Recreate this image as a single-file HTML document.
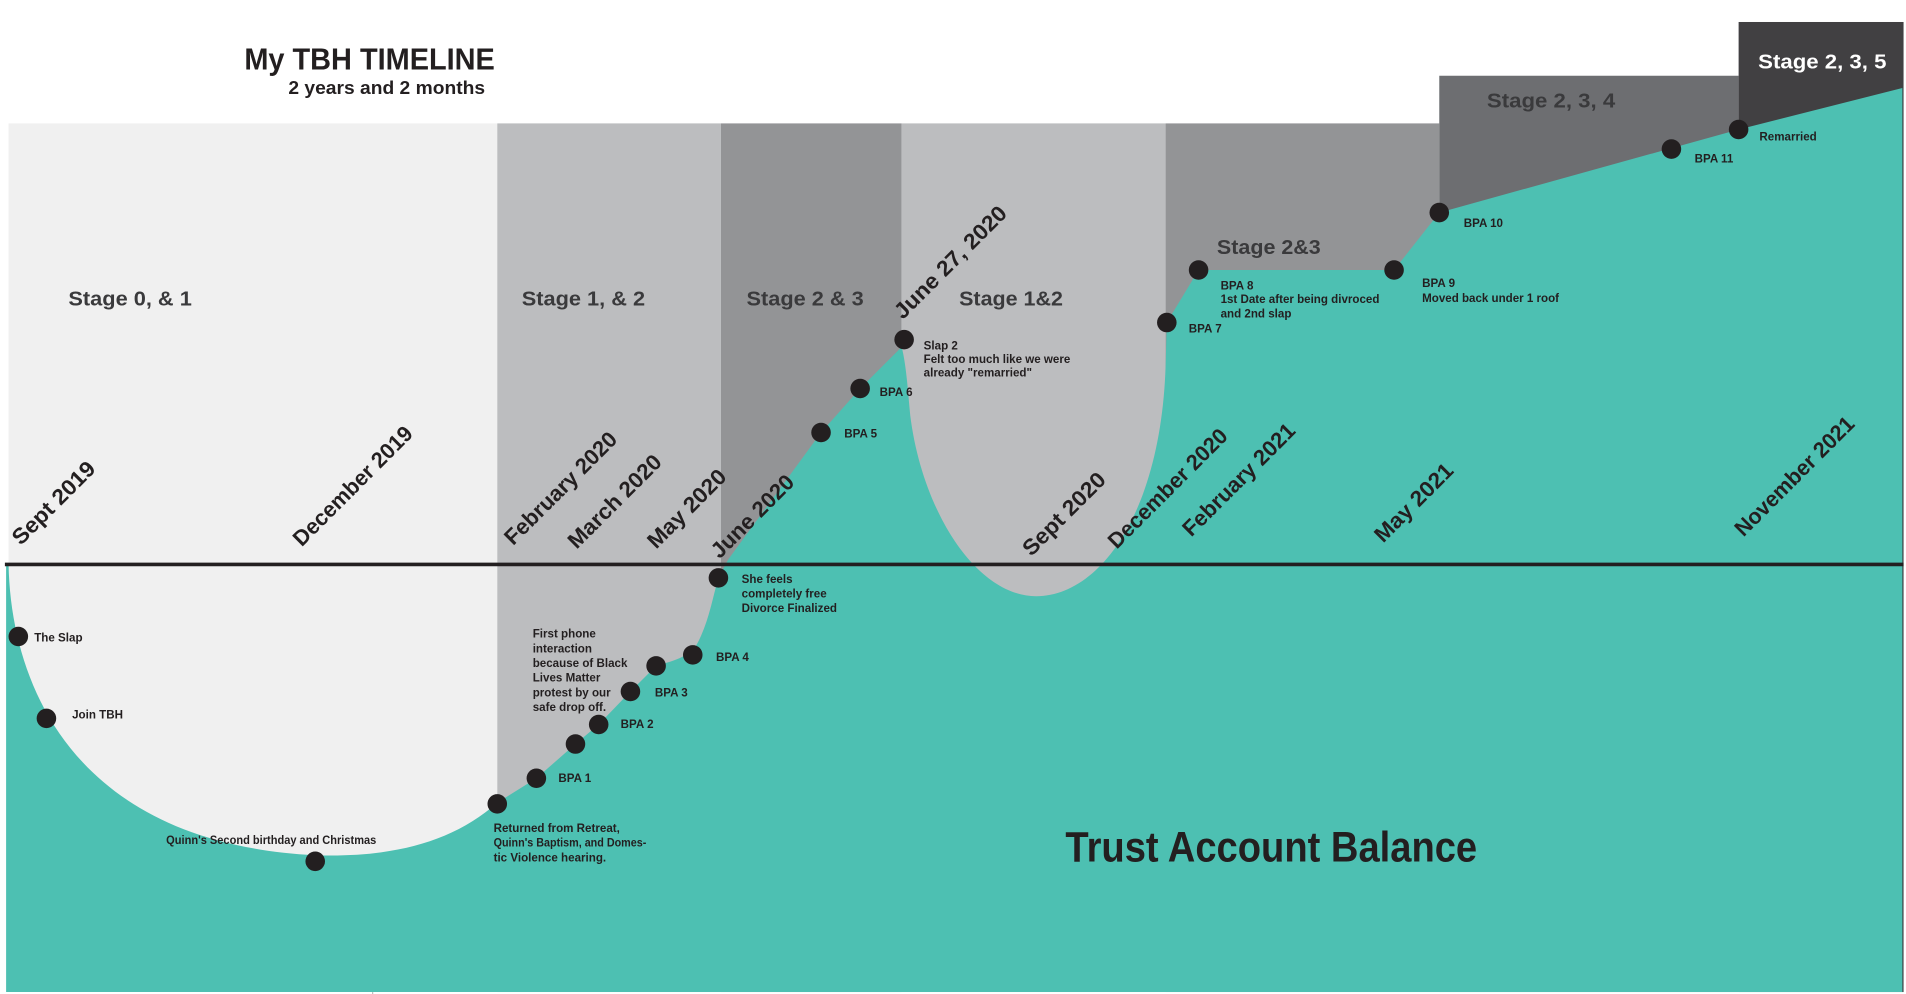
<!DOCTYPE html>
<html><head><meta charset="utf-8"><style>
html,body{margin:0;padding:0;background:#fff;width:1906px;height:994px;overflow:hidden}
svg{display:block}
text{font-family:"Liberation Sans",sans-serif;font-weight:bold;fill:#231f20}
.d{font-size:18px}
.s{font-size:17px;fill:#3a3a3c}
.a{font-size:9.5px}
</style></head><body>
<svg width="1906" height="994" viewBox="0 0 1560 813.6" preserveAspectRatio="none">
<rect x="7" y="101" width="400" height="711" fill="#f0f0f0"/>
<rect x="407" y="101" width="183" height="711" fill="#bcbdbf"/>
<rect x="590" y="101" width="148" height="711" fill="#939496"/>
<rect x="738" y="101" width="216" height="711" fill="#bcbdbf"/>
<rect x="954" y="101" width="224" height="711" fill="#939496"/>
<rect x="1178" y="62" width="245" height="750" fill="#6d6e71"/>
<rect x="1423" y="18" width="135" height="794" fill="#414042"/>
<path d="M5,462 L7,462 C9,560 60,690 258,700 C320,702 370,690 407,657 L439,637 L471,609 L490,593 L516,566 L537,545 C555,540 565,536 570,528 C580,510 583,490 588,473 L596,458 L672,354 L704,318 L738,284 C742,300 743,320 745,340 C755,420 800,488 848,488 C900,488 950,420 954,300 L955,264 L981,221 L1141,221 L1178,174 L1423,106 L1557,72 L1557,812 L5,812 Z" fill="#4dc0b2"/>
<line x1="305" y1="812" x2="305" y2="818" stroke="#bbb" stroke-width="1"/>
<line x1="4" y1="462" x2="1558" y2="462" stroke="#231f20" stroke-width="3"/>
<text x="200" y="57" style="font-size:25px" textLength="205" lengthAdjust="spacingAndGlyphs">My TBH TIMELINE</text>
<text x="236" y="77" style="font-size:15px" textLength="161" lengthAdjust="spacingAndGlyphs">2 years and 2 months</text>
<g>
<text class="d" transform="translate(17,447) rotate(-45)" textLength="88" lengthAdjust="spacingAndGlyphs">Sept 2019</text>
<text class="d" transform="translate(247,448) rotate(-45)" textLength="130" lengthAdjust="spacingAndGlyphs">December 2019</text>
<text class="d" transform="translate(420,447) rotate(-45)" textLength="122" lengthAdjust="spacingAndGlyphs">February 2020</text>
<text class="d" transform="translate(472,450) rotate(-45)" textLength="100" lengthAdjust="spacingAndGlyphs">March 2020</text>
<text class="d" transform="translate(537,450) rotate(-45)" textLength="83" lengthAdjust="spacingAndGlyphs">May 2020</text>
<text class="d" transform="translate(589,458) rotate(-45)" textLength="88" lengthAdjust="spacingAndGlyphs">June 2020</text>
<text class="d" transform="translate(739,262) rotate(-45)" textLength="122" lengthAdjust="spacingAndGlyphs">June 27, 2020</text>
<text class="d" transform="translate(844,456) rotate(-45)" textLength="88" lengthAdjust="spacingAndGlyphs">Sept 2020</text>
<text class="d" transform="translate(914,450) rotate(-45)" textLength="130" lengthAdjust="spacingAndGlyphs">December 2020</text>
<text class="d" transform="translate(975,440) rotate(-45)" textLength="122" lengthAdjust="spacingAndGlyphs">February 2021</text>
<text class="d" transform="translate(1132,445) rotate(-45)" textLength="83" lengthAdjust="spacingAndGlyphs">May 2021</text>
<text class="d" transform="translate(1427,440) rotate(-45)" textLength="130" lengthAdjust="spacingAndGlyphs">November 2021</text>
</g>
<text class="s" x="56" y="250" textLength="101" lengthAdjust="spacingAndGlyphs">Stage 0, &amp; 1</text>
<text class="s" x="427" y="250" textLength="101" lengthAdjust="spacingAndGlyphs">Stage 1, &amp; 2</text>
<text class="s" x="611" y="250" textLength="96" lengthAdjust="spacingAndGlyphs">Stage 2 &amp; 3</text>
<text class="s" x="785" y="250" textLength="85" lengthAdjust="spacingAndGlyphs">Stage 1&amp;2</text>
<text class="s" x="996" y="208" textLength="85" lengthAdjust="spacingAndGlyphs">Stage 2&amp;3</text>
<text class="s" x="1217" y="88" textLength="105" lengthAdjust="spacingAndGlyphs">Stage 2, 3, 4</text>
<text class="s" x="1439" y="56" style="fill:#fff" textLength="105" lengthAdjust="spacingAndGlyphs">Stage 2, 3, 5</text>
<text x="872" y="705" style="font-size:35px" textLength="337" lengthAdjust="spacingAndGlyphs">Trust Account Balance</text>
<g fill="#231f20">
<circle cx="15" cy="521" r="8"/><circle cx="38" cy="588" r="8"/><circle cx="258" cy="705" r="8"/>
<circle cx="407" cy="658" r="8"/><circle cx="439" cy="637" r="8"/><circle cx="471" cy="609" r="8"/>
<circle cx="490" cy="593" r="8"/><circle cx="516" cy="566" r="8"/><circle cx="537" cy="545" r="8"/>
<circle cx="567" cy="536" r="8"/><circle cx="588" cy="473" r="8"/><circle cx="672" cy="354" r="8"/>
<circle cx="704" cy="318" r="8"/><circle cx="740" cy="278" r="8"/><circle cx="955" cy="264" r="8"/>
<circle cx="981" cy="221" r="8"/><circle cx="1141" cy="221" r="8"/><circle cx="1178" cy="174" r="8"/>
<circle cx="1368" cy="122" r="8"/><circle cx="1423" cy="106" r="8"/>
</g>
<g>
<text class="a" x="28" y="525">The Slap</text>
<text class="a" x="59" y="588">Join TBH</text>
<text class="a" x="136" y="691" textLength="172" lengthAdjust="spacingAndGlyphs">Quinn's Second birthday and Christmas</text>
<text class="a" x="404" y="681">Returned from Retreat,</text>
<text class="a" x="404" y="693" textLength="125" lengthAdjust="spacingAndGlyphs">Quinn's Baptism, and Domes-</text>
<text class="a" x="404" y="705">tic Violence hearing.</text>
<text class="a" x="457" y="640">BPA 1</text>
<text class="a" x="508" y="596">BPA 2</text>
<text class="a" x="536" y="570">BPA 3</text>
<text class="a" x="586" y="541">BPA 4</text>
<text class="a" x="436" y="522">First phone</text>
<text class="a" x="436" y="534">interaction</text>
<text class="a" x="436" y="546">because of Black</text>
<text class="a" x="436" y="558">Lives Matter</text>
<text class="a" x="436" y="570">protest by our</text>
<text class="a" x="436" y="582">safe drop off.</text>
<text class="a" x="607" y="477">She feels</text>
<text class="a" x="607" y="489">completely free</text>
<text class="a" x="607" y="501">Divorce Finalized</text>
<text class="a" x="691" y="358">BPA 5</text>
<text class="a" x="720" y="324">BPA 6</text>
<text class="a" x="756" y="286">Slap 2</text>
<text class="a" x="756" y="297" textLength="120" lengthAdjust="spacingAndGlyphs">Felt too much like we were</text>
<text class="a" x="756" y="308">already "remarried"</text>
<text class="a" x="973" y="272">BPA 7</text>
<text class="a" x="999" y="237">BPA 8</text>
<text class="a" x="999" y="248" textLength="130" lengthAdjust="spacingAndGlyphs">1st Date after being divroced</text>
<text class="a" x="999" y="260">and 2nd slap</text>
<text class="a" x="1164" y="235">BPA 9</text>
<text class="a" x="1164" y="247" textLength="112" lengthAdjust="spacingAndGlyphs">Moved back under 1 roof</text>
<text class="a" x="1198" y="186">BPA 10</text>
<text class="a" x="1387" y="133">BPA 11</text>
<text class="a" x="1440" y="115">Remarried</text>
</g>
</svg>
</body></html>
